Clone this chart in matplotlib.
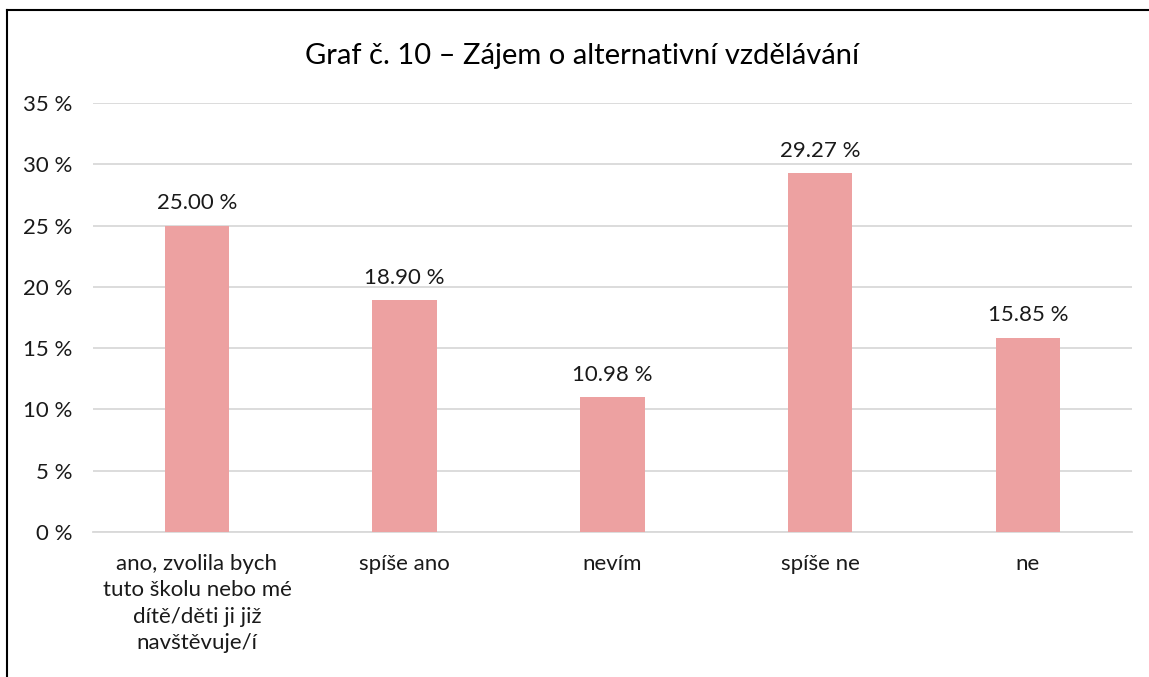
import matplotlib
matplotlib.use("Agg")
import matplotlib.pyplot as plt
from matplotlib.lines import Line2D
import numpy as np

categories = [
    "ano, zvolila bych\ntuto školu nebo mé\ndítě/děti ji již\nnavštěvuje/í",
    "spíše ano",
    "nevím",
    "spíše ne",
    "ne",
]
values = [25.00, 18.90, 10.98, 29.27, 15.85]
yticks = [0, 5, 10, 15, 20, 25, 30, 35]
title = "Graf č. 10 – Zájem o alternativní vzdělávání"

plt.rcParams["font.family"] = ["Lato", "DejaVu Sans"]
text_color = "#1a1a1a"

fig = plt.figure(figsize=(11.49, 6.77), dpi=100)
ax = fig.add_axes([0.081, 0.214, 0.904, 0.634])

x = np.arange(len(categories))
bars = ax.bar(x, values, width=0.31, color="#EDA1A1", zorder=3)

for b, v in zip(bars, values):
    ax.annotate(f"{v:.2f} %", (b.get_x() + b.get_width() / 2, v),
                xytext=(0, 9), textcoords="offset points",
                ha="center", va="bottom", fontsize=16, color=text_color)

ax.set_xlim(-0.5, len(categories) - 0.5)
ax.set_ylim(0, 35)
ax.set_yticks(yticks)
ax.set_yticklabels([f"{t} %" for t in yticks], fontsize=16, color=text_color)
ax.set_xticks(x)
ax.set_xticklabels(categories, fontsize=16, color=text_color, linespacing=1.38)
ax.tick_params(axis="both", length=0)
ax.tick_params(axis="y", pad=15)
ax.tick_params(axis="x", pad=16)

ax.grid(axis="y", color="#D9D9D9", linewidth=1.3, zorder=0)
for s in ["top", "right", "left"]:
    ax.spines[s].set_visible(False)
ax.spines["bottom"].set_color("#D9D9D9")
ax.spines["bottom"].set_linewidth(1.3)

fig.text(0.507, 0.918, title, ha="center", va="center", fontsize=21, color="#000000")

# chart frame (cut off at right and bottom)
fig.add_artist(Line2D([7 / 1149, 1.0], [1 - 10 / 677, 1 - 10 / 677],
                      transform=fig.transFigure, color="black", linewidth=1.5))
fig.add_artist(Line2D([7 / 1149, 7 / 1149], [0, 1 - 10 / 677],
                      transform=fig.transFigure, color="black", linewidth=1.5))

fig.savefig("out.png", dpi=100)
